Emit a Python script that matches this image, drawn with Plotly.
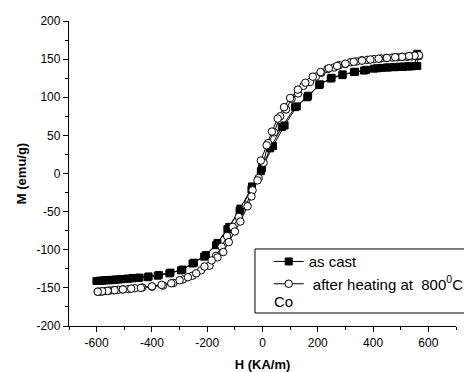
import plotly.graph_objects as go

# As cast: ascending branch (-600 -> 560) and descending branch (560 -> -600)
H_cast_up = [-600, -590, -578, -565, -550, -535, -520, -503, -487, -470, -450, -415, -379, -337,
             -295, -253, -211, -168, -127, -83, -40, -6, 28, 70, 118, 162, 205, 247, 289, 331,
             367, 403, 430, 455, 475, 495, 510, 525, 540, 552, 560]
M_cast_up = [-141, -141, -140.5, -140, -140, -139.5, -139, -138.5, -138, -137.5, -137, -136, -134,
             -131, -127, -118, -109, -94, -73, -49, -21, 3, 33, 61, 87, 100, 116, 124.5, 129, 133,
             135, 137.5, 138.5, 139, 139.5, 140, 140, 140.5, 140.5, 141, 141]
H_cast_dn = [560, 548, 530, 505, 480, 450, 415, 375, 335, 290, 250, 208, 165, 124, 80, 38, -2,
             -38, -80, -120, -163, -205, -248, -290, -333, -375, -412, -445, -470, -490, -510,
             -530, -550, -570, -588, -600]
M_cast_dn = [157, 141, 140.5, 140, 139.5, 139, 138, 136, 133.5, 130, 125.5, 117, 102, 88, 63, 36,
             7, -17, -46, -70, -91, -107, -117, -126, -130, -133, -135, -136.5, -137, -138, -138.5,
             -139, -139.5, -140, -140.5, -141]

# After heating at 800 C: ascending and descending branches
H_heat_up = [-596, -588, -578, -566, -553, -538, -522, -505, -485, -462, -435, -400, -360, -322,
             -288, -253, -222, -192, -168, -148, -128, -108, -86, -60, -36, -14, 4, 20, 42, 64,
             85, 105, 129, 148, 172, 193, 213, 235, 259, 277, 299, 319, 340, 359, 379, 403, 428,
             448, 470, 488, 506, 524, 540, 554, 566]
M_heat_up = [-155, -155, -154.5, -154, -153.5, -153, -152.5, -152, -151.5, -150.5, -149.5, -148.5,
             -147, -143.5, -139, -134, -127, -121, -108, -96, -82, -70, -57, -42, -22, -6, 14, 40,
             54, 75, 84, 98, 105, 115, 120, 127, 132, 137, 139, 142, 143.5, 146, 147, 148.5, 149,
             150, 151, 151.5, 152, 152.5, 153, 153, 153.5, 154, 154]
H_heat_dn = [566, 550, 530, 505, 480, 450, 420, 390, 360, 330, 300, 270, 240, 210, 182, 155, 128,
             100, 78, 55, 34, 15, -6, -18, -40, -54, -80, -100, -122, -142, -163, -184, -210, -240,
             -270, -300, -330, -365, -400, -440, -475, -505, -535, -560, -580, -596]
M_heat_dn = [155, 154.5, 154, 153, 152.5, 151.5, 150.5, 149.5, 148, 146.5, 144, 141, 138, 133, 127,
             119, 110, 99, 87, 72, 55, 37, 17, -9, -30, -43, -63, -76, -90, -103, -110, -114, -122,
             -131, -136, -140, -144, -146, -148, -150, -151, -152, -153, -154, -154.5, -155]

x_ticks = [-600, -400, -200, 0, 200, 400, 600]
y_ticks = [-200, -150, -100, -50, 0, 50, 100, 150, 200]

FONT = "Liberation Sans, Arial"

fig = go.Figure()
sq = dict(symbol="square", size=7, color="black", line=dict(color="black", width=1))
ci = dict(symbol="circle", size=7.5, color="white", line=dict(color="black", width=1))

fig.add_trace(go.Scatter(x=H_cast_up + H_cast_dn, y=M_cast_up + M_cast_dn, mode="lines+markers",
                         line=dict(color="black", width=1), marker=sq, name="as cast",
                         legend="legend"))
fig.add_trace(go.Scatter(x=H_heat_up + H_heat_dn, y=M_heat_up + M_heat_dn, mode="lines+markers",
                         line=dict(color="black", width=1), marker=ci,
                         name=" after heating at  800<sup>0</sup>C", legend="legend2"))

axis_common = dict(showline=True, linecolor="black", linewidth=1.3, ticks="outside",
                   tickcolor="black", ticklen=5, tickwidth=1.2, showgrid=False, zeroline=False,
                   mirror=False, automargin=False,
                   tickfont=dict(family=FONT, size=12, color="black"))

fig.update_xaxes(range=[-700, 700], tickvals=x_ticks, ticktext=[str(v) for v in x_ticks],
                 minor=dict(dtick=100, tick0=0, ticks="outside", ticklen=3, tickcolor="black", tickwidth=1),
                 title=dict(text="<b>H (KA/m)</b>", font=dict(family=FONT, size=13, color="black"),
                            standoff=13),
                 **axis_common)
fig.update_yaxes(range=[-200, 200], tickvals=y_ticks, ticktext=[str(v) for v in y_ticks],
                 minor=dict(dtick=25, tick0=0, ticks="outside", ticklen=3, tickcolor="black", tickwidth=1),
                 title=dict(text="<b>M (emu/g)</b>", font=dict(family=FONT, size=13, color="black"),
                            standoff=6),
                 **axis_common)

leg_common = dict(xanchor="left", yanchor="middle", bgcolor="rgba(0,0,0,0)", borderwidth=0,
                  font=dict(family=FONT, size=15, color="black"), itemwidth=30)

# page body has an 8px offset: figure is 464x364 drawn at (8,8)
fig.update_layout(
    width=464, height=364,
    margin=dict(l=61, r=16, t=13, b=46, autoexpand=False),
    paper_bgcolor="white", plot_bgcolor="white",
    showlegend=True,
    legend=dict(x=0.516, y=(326 - 261.7) / 305, **leg_common),
    legend2=dict(x=0.516, y=(326 - 284) / 305, **leg_common),
    shapes=[dict(type="rect", xref="paper", yref="paper", x0=0.4806, x1=1.037, y0=0.0426, y1=0.2525,
                 line=dict(color="black", width=1), fillcolor="rgba(0,0,0,0)")],
    annotations=[dict(text="Co", xref="paper", yref="paper", x=(272 - 69) / 387, y=(326 - 301.7) / 305,
                      xanchor="left", yanchor="middle", showarrow=False,
                      font=dict(family=FONT, size=15, color="black"))],
)

fig.write_html("out.html")
